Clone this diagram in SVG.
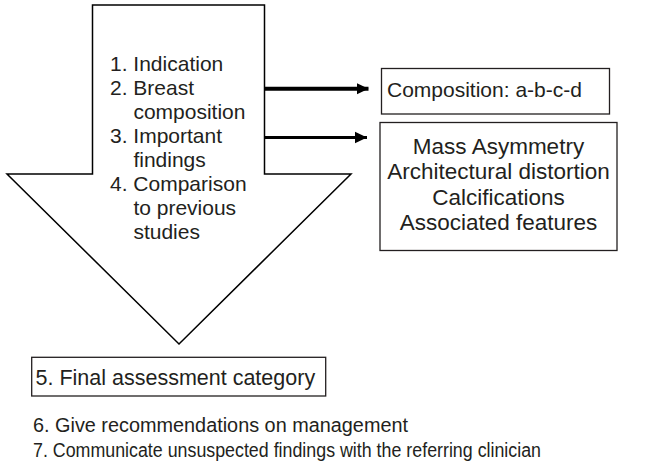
<svg xmlns="http://www.w3.org/2000/svg" width="645" height="463" viewBox="0 0 645 463">
<style>
text{font-family:"Liberation Sans",Arial,sans-serif;fill:#231f20;font-size:21px}
.box{fill:#fff;stroke:#231f20;stroke-width:1.3}
.conn{stroke:#000;fill:none}
.f{font-size:22.5px}
.b{font-size:20px}
</style>
<defs>
<marker id="ah" markerUnits="userSpaceOnUse" markerWidth="13" markerHeight="13" viewBox="0 0 13 13" refX="12" refY="6.5" orient="auto">
<path d="M0,0.8 L12,6.5 L0,12.2 Z" fill="#000"/>
</marker>
</defs>
<rect width="645" height="463" fill="#fff"/>
<g id="main-arrow">
<polygon points="92.5,5 264.5,5 264.5,174 351,174 179,344 7,174 92.5,174" fill="#fff" stroke="#000" stroke-width="1.5" stroke-linejoin="miter"/>
<text x="110" y="70.7">1. Indication</text>
<text x="110" y="94.7">2. Breast</text>
<text x="133.4" y="118.7">composition</text>
<text x="110" y="142.7">3. Important</text>
<text x="133.4" y="166.7">findings</text>
<text x="110" y="190.7">4. Comparison</text>
<text x="133.4" y="214.7">to previous</text>
<text x="133.4" y="238.7">studies</text>
</g>
<g id="connectors">
<line class="conn" x1="264.5" y1="88.7" x2="368.5" y2="88.7" stroke-width="4" marker-end="url(#ah)"/>
<line class="conn" x1="264.5" y1="137.5" x2="367" y2="137.5" stroke-width="3" marker-end="url(#ah)"/>
</g>
<g id="composition-box">
<rect class="box" x="381.5" y="68.5" width="228" height="45.5"/>
<text x="387" y="96.5">Composition: a-b-c-d</text>
</g>
<g id="findings-box">
<rect class="box" x="380" y="122.5" width="237" height="128"/>
<text class="f" x="498.5" y="153.5" text-anchor="middle">Mass Asymmetry</text>
<text class="f" x="498.5" y="179" text-anchor="middle">Architectural distortion</text>
<text class="f" x="498.5" y="204.5" text-anchor="middle">Calcifications</text>
<text class="f" x="498.5" y="230" text-anchor="middle">Associated features</text>
</g>
<g id="assessment-box">
<rect class="box" x="31.7" y="357.3" width="294" height="38.7"/>
<text x="35.5" y="384.5" style="font-size:21.5px">5. Final assessment category</text>
</g>
<g id="recommendations">
<text class="b" x="33" y="432" textLength="375" lengthAdjust="spacingAndGlyphs">6. Give recommendations on management</text>
<text class="b" x="33" y="457" textLength="508" lengthAdjust="spacingAndGlyphs">7. Communicate unsuspected findings with the referring clinician</text>
</g>
</svg>
